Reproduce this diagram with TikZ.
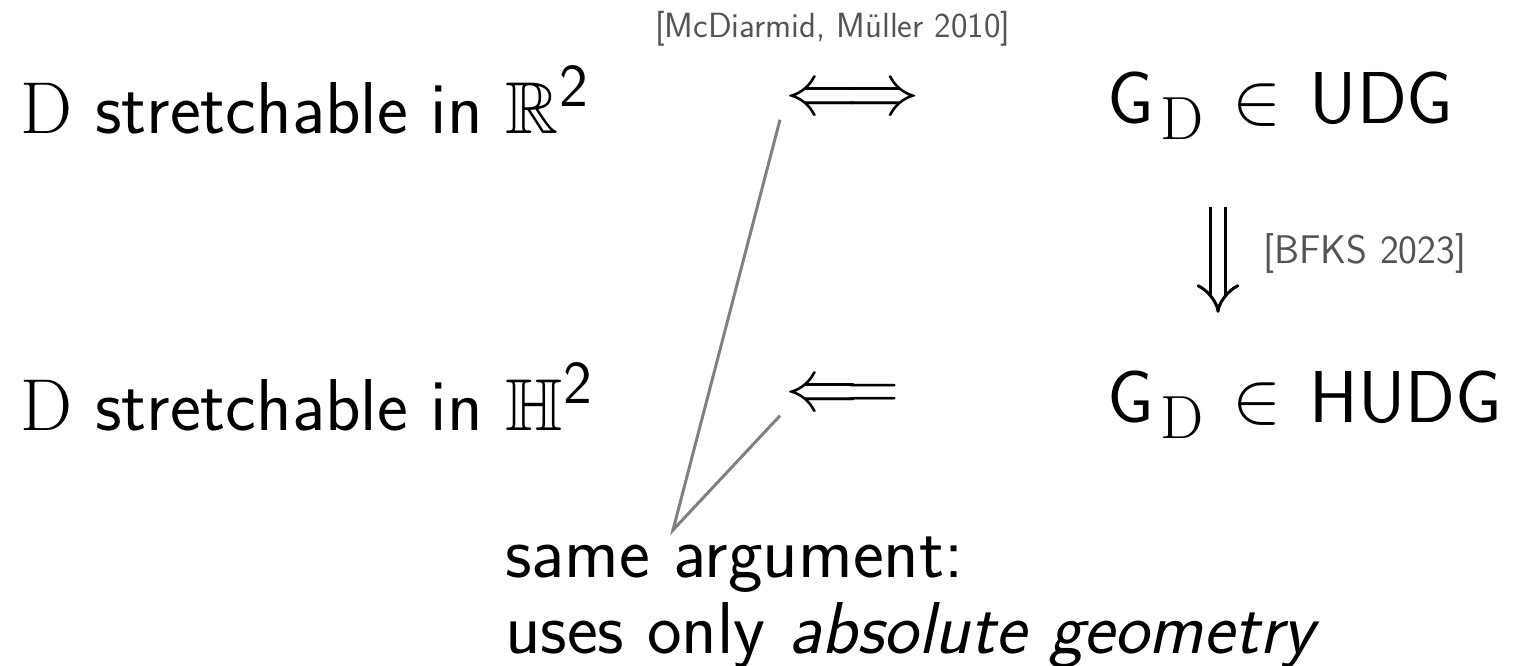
\RequirePackage{fix-cm}
\documentclass[tikz,border=0pt]{standalone}
\usepackage{amsmath,amssymb}
\usetikzlibrary{arrows.meta}
\DeclareMathSizes{73.5}{73.5}{61}{49}

\begin{document}
\begin{tikzpicture}[
  x=1pt, y=-1pt, font=\sffamily\fontsize{73.5}{76}\selectfont,
  stmt/.style={inner sep=0pt, anchor=base west},
  cite/.style={stmt, font=\sffamily\fontsize{35}{40}\selectfont, text=black!67},
  sym/.style={inner sep=5pt, anchor=west},
  imp/.style={double, double distance=12pt, line width=3pt, -{Implies}},
  hint/.style={gray, line width=3pt}]
\useasboundingbox (0,0) rectangle (1514,665);
\node[stmt] (reu) at (20,133) {$\mathrm{D}$ stretchable in $\mathbb{R}^{\text{2}}$};
\node[stmt] (hyp) at (20,430) {$\mathrm{D}$ stretchable in $\mathbb{H}^{\text{2}}$};
\node[stmt] (udg) at (1107,123) {$\mathsf{G}_{\mkern2mu\mathrm{D}}\mathrel{\mkern2mu\in\mkern2mu}\mathsf{UDG}$};
\node[stmt] (hudg) at (1107,422) {$\mathsf{G}_{\mkern2mu\mathrm{D}}\mathrel{\mkern2mu\in\mkern2mu}\mathsf{HUDG}$};
\node[sym] (iff) at (780,101) {$\Longleftrightarrow$};
\node[sym] (back) at (780,397) {$\Longleftarrow$};
\node[cite] (mm) at (655,37) {[McDiarmid, Müller 2010]};
\node[cite, font=\sffamily\fontsize{40}{44}\selectfont] (bfks) at (1263,263) {[BFKS 2023]};
\draw[imp] ([xshift=111pt,yshift=-67pt]udg.south west) -- ([xshift=111pt,yshift=58pt]hudg.north west);
\node[stmt] (arg) at (505,577) {same argument:};
\node[stmt] (geo) at (505,653) {uses only \emph{absolute geometry}};
\coordinate (apex) at (673,530);
\draw[hint] (iff.south west) -- (apex) -- (back.south west);
\end{tikzpicture}
\end{document}
